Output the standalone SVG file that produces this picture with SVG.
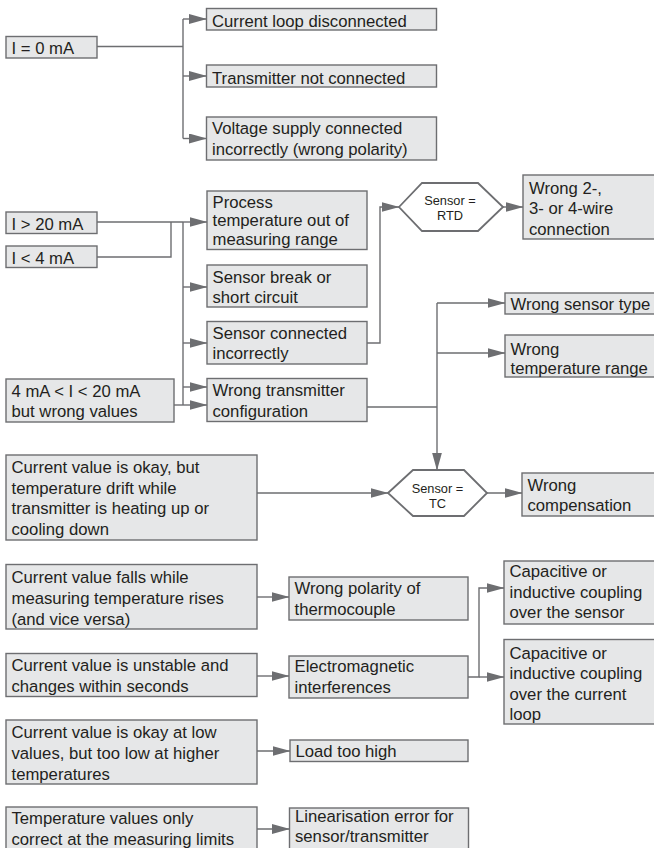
<svg xmlns="http://www.w3.org/2000/svg" width="654" height="848" viewBox="0 0 654 848">
<style>
.box{fill:#e6e7e8;stroke:#6d6e71;stroke-width:1.4}
.hex{fill:#ffffff;stroke:#6d6e71;stroke-width:1.8}
text{font-family:"Liberation Sans",Arial,Helvetica,sans-serif;font-size:16.7px;fill:#231f20}
.small{font-size:12.8px;text-anchor:middle}
.con path{fill:none;stroke:#6d6e71;stroke-width:1.4}
.con path.a{marker-end:url(#arr)}
</style>
<defs>
<marker id="arr" markerUnits="userSpaceOnUse" markerWidth="18" markerHeight="10" refX="17.5" refY="5" orient="auto">
<path d="M0,0 L18,5 L0,10 Z" fill="#6d6e71"/>
</marker>
</defs>
<rect width="654" height="848" fill="#ffffff"/>

<g class="con" id="connectors">
<path d="M97,46.5 H183"/>
<path d="M183,19 V138.5"/>
<path class="a" d="M183,19 H206.5"/>
<path class="a" d="M183,76 H206.5"/>
<path class="a" d="M183,138.5 H206.5"/>

<path d="M97,222 H183"/>
<path d="M97,257 H171 V222"/>
<path d="M183,222 V405"/>
<path d="M174,405 H183"/>
<path class="a" d="M183,222 H207"/>
<path class="a" d="M183,287 H207"/>
<path class="a" d="M183,343 H207"/>
<path class="a" d="M183,387 H207"/>
<path class="a" d="M183,405 H207"/>
<path class="a" d="M367,343 H380 V207 H399"/>
<path class="a" d="M503,207 H523"/>
<path d="M367,407 H437"/>
<path class="a" d="M437,303 V470"/>
<path class="a" d="M437,303 H505"/>
<path class="a" d="M437,353 H505"/>
<path class="a" d="M257,493 H388"/>
<path class="a" d="M487,493 H522"/>

<path class="a" d="M257,597 H289"/>
<path class="a" d="M257,676 H289"/>
<path class="a" d="M468,677 H479 V588 H504"/>
<path class="a" d="M479,677 H504"/>
<path class="a" d="M257,751 H290"/>
<path class="a" d="M257,829 H289.5"/>
</g>

<g id="n-i0"><rect class="box" x="6" y="36.5" width="91" height="21.5"/><text x="11.5" y="54">I = 0 mA</text></g>
<g id="n-loop"><rect class="box" x="206.5" y="8.5" width="230" height="21.5"/><text x="212" y="27">Current loop disconnected</text></g>
<g id="n-trans"><rect class="box" x="206.5" y="65" width="230" height="22"/><text x="212" y="83.5">Transmitter not connected</text></g>
<g id="n-volt"><rect class="box" x="206.5" y="117" width="230" height="43"/><text x="212" y="134">Voltage supply connected</text><text x="212" y="155">incorrectly (wrong polarity)</text></g>

<g id="n-i20"><rect class="box" x="6" y="212" width="91" height="21.5"/><text x="11.5" y="229.5">I &gt; 20 mA</text></g>
<g id="n-i4"><rect class="box" x="6" y="246" width="91" height="21.5"/><text x="11.5" y="263.5">I &lt; 4 mA</text></g>
<g id="n-i420"><rect class="box" x="6" y="379" width="168" height="43"/><text x="11.5" y="396.5">4 mA &lt; I &lt; 20 mA</text><text x="11.5" y="416.5">but wrong values</text></g>

<g id="n-process"><rect class="box" x="207" y="191" width="160" height="58.5"/><text x="212.5" y="207.5">Process</text><text x="212.5" y="226.3">temperature out of</text><text x="212.5" y="245">measuring range</text></g>
<g id="n-break"><rect class="box" x="207" y="265" width="160" height="42"/><text x="212.5" y="282.5">Sensor break or</text><text x="212.5" y="302.5">short circuit</text></g>
<g id="n-conn"><rect class="box" x="207" y="321.5" width="160" height="42.5"/><text x="212.5" y="338.5">Sensor connected</text><text x="212.5" y="358.5">incorrectly</text></g>
<g id="n-config"><rect class="box" x="207" y="378.5" width="160" height="43"/><text x="212.5" y="396">Wrong transmitter</text><text x="212.5" y="416.5">configuration</text></g>

<g id="n-rtd"><polygon class="hex" points="399,207 422,183 478,183 503,207 478,231 422,231"/><text class="small" x="450" y="205">Sensor =</text><text class="small" x="450" y="220">RTD</text></g>
<g id="n-wire"><rect class="box" x="523" y="175" width="140" height="64"/><text x="529" y="193.5">Wrong 2-,</text><text x="529" y="214">3- or 4-wire</text><text x="529" y="234.5">connection</text></g>
<g id="n-stype"><rect class="box" x="505" y="293" width="158" height="21"/><text x="510.5" y="309.5">Wrong sensor type</text></g>
<g id="n-trange"><rect class="box" x="505" y="335" width="158" height="42"/><text x="510.5" y="354.5">Wrong</text><text x="510.5" y="373.5">temperature range</text></g>

<g id="n-drift"><rect class="box" x="6" y="455" width="251" height="85"/><text x="11.5" y="472.5">Current value is okay, but</text><text x="11.5" y="493.5">temperature drift while</text><text x="11.5" y="514">transmitter is heating up or</text><text x="11.5" y="535">cooling down</text></g>
<g id="n-tc"><polygon class="hex" points="388,493 413,470 464,470 487,493 464,516 413,516"/><text class="small" x="437.5" y="493.3">Sensor =</text><text class="small" x="437.5" y="508.3">TC</text></g>
<g id="n-comp"><rect class="box" x="522" y="473" width="140" height="43"/><text x="527.5" y="491">Wrong</text><text x="527.5" y="511">compensation</text></g>

<g id="n-falls"><rect class="box" x="6" y="564.5" width="251" height="64.5"/><text x="11.5" y="582.5">Current value falls while</text><text x="11.5" y="603.5">measuring temperature rises</text><text x="11.5" y="624.5">(and vice versa)</text></g>
<g id="n-polarity"><rect class="box" x="289" y="577" width="179" height="43"/><text x="294.5" y="594">Wrong polarity of</text><text x="294.5" y="615">thermocouple</text></g>
<g id="n-unstable"><rect class="box" x="6" y="653.5" width="251" height="43"/><text x="11.5" y="671">Current value is unstable and</text><text x="11.5" y="691.5">changes within seconds</text></g>
<g id="n-em"><rect class="box" x="289" y="656" width="179" height="42"/><text x="294.5" y="672">Electromagnetic</text><text x="294.5" y="693">interferences</text></g>
<g id="n-capsensor"><rect class="box" x="504" y="561" width="160" height="63"/><text x="509.5" y="577">Capacitive or</text><text x="509.5" y="597.5">inductive coupling</text><text x="509.5" y="618">over the sensor</text></g>
<g id="n-caploop"><rect class="box" x="504" y="639.5" width="160" height="84.5"/><text x="509.5" y="658.5">Capacitive or</text><text x="509.5" y="679">inductive coupling</text><text x="509.5" y="699.5">over the current</text><text x="509.5" y="720">loop</text></g>

<g id="n-low"><rect class="box" x="6" y="720" width="251" height="64"/><text x="11.5" y="737.5">Current value is okay at low</text><text x="11.5" y="758.5">values, but too low at higher</text><text x="11.5" y="779.5">temperatures</text></g>
<g id="n-load"><rect class="box" x="290" y="740" width="178" height="21.5"/><text x="295.5" y="757">Load too high</text></g>
<g id="n-limits"><rect class="box" x="6" y="807" width="251" height="60"/><text x="11.5" y="824">Temperature values only</text><text x="11.5" y="845">correct at the measuring limits</text></g>
<g id="n-linear"><rect class="box" x="289.5" y="808" width="179" height="60"/><text x="295" y="822">Linearisation error for</text><text x="295" y="842">sensor/transmitter</text></g>
</svg>
